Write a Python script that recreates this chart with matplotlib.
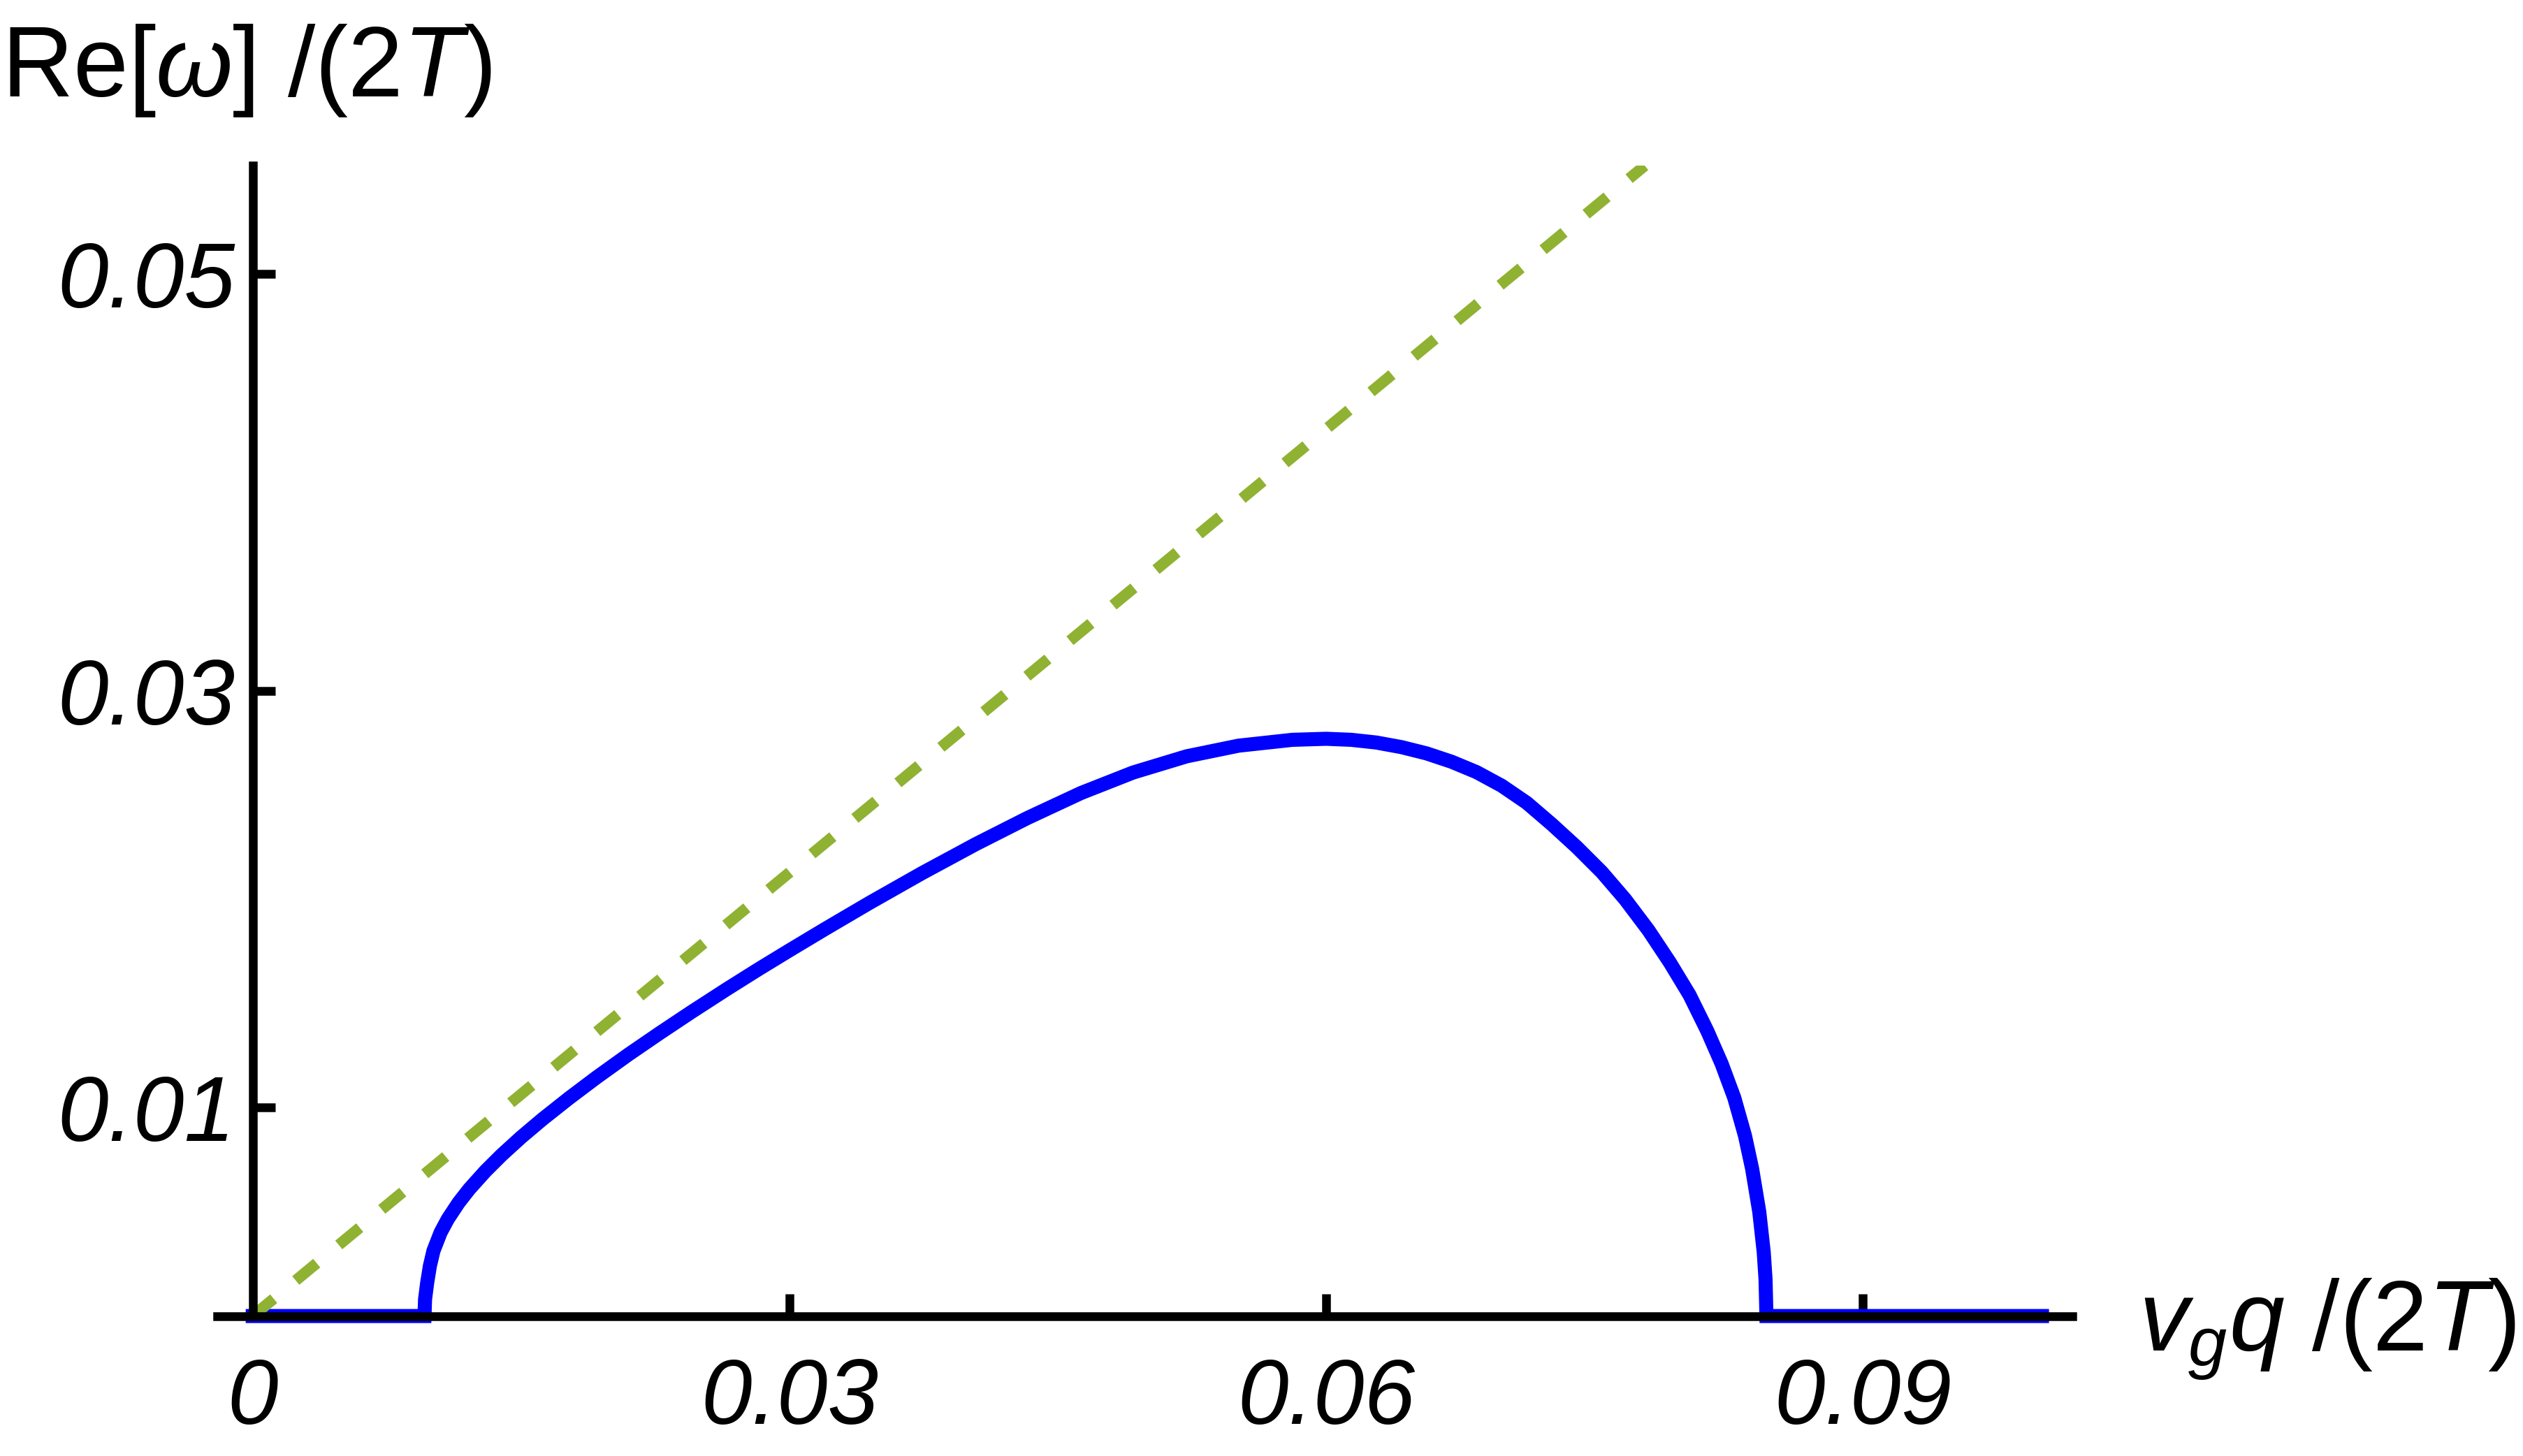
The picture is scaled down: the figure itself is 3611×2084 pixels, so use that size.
import matplotlib
matplotlib.use("Agg")
import matplotlib.pyplot as plt

plt.rcParams['font.family'] = ['Liberation Sans', 'DejaVu Sans']
plt.rcParams['mathtext.fontset'] = 'custom'
plt.rcParams['mathtext.rm'] = 'Liberation Sans'
plt.rcParams['mathtext.it'] = 'Liberation Sans:italic'
plt.rcParams['lines.scale_dashes'] = False

# blue curve: Re[w]/(2T) vs v_g q/(2T)
blue_x = [0.0, 0.0096, 0.00963, 0.00975, 0.0099, 0.0101, 0.0105, 0.0109, 0.0115,
          0.0121, 0.013, 0.0139, 0.015, 0.0162, 0.0177, 0.0192, 0.021, 0.0227,
          0.0245, 0.0265, 0.0283, 0.03, 0.032, 0.0345, 0.0374, 0.0404, 0.0433,
          0.0463, 0.0492, 0.0522, 0.0551, 0.0581, 0.06, 0.0614, 0.0628, 0.0642,
          0.0656, 0.067, 0.0684, 0.0698, 0.0712, 0.0726, 0.074, 0.0754, 0.0767,
          0.078, 0.0792, 0.0803, 0.0813, 0.0821, 0.0828, 0.0834, 0.0838, 0.0842,
          0.08445, 0.08455, 0.0846, 0.1]
blue_y = [0.0, 0.0, 0.0008, 0.0016, 0.0024, 0.00313, 0.00401, 0.00465, 0.00543,
          0.00609, 0.00695, 0.00772, 0.00858, 0.00945, 0.01047, 0.01144, 0.01255, 0.01355,
          0.01458, 0.01569, 0.01666, 0.01755, 0.01858, 0.01984, 0.02125, 0.02264, 0.0239,
          0.0251, 0.02608, 0.02686, 0.02737, 0.02765, 0.0277, 0.02765, 0.02752, 0.0273,
          0.027, 0.0266, 0.0261, 0.02545, 0.02463, 0.0236, 0.0225, 0.0213, 0.02,
          0.01852, 0.01697, 0.01541, 0.01367, 0.0121, 0.01048, 0.00866, 0.00707, 0.005,
          0.00306, 0.00177, 0.0, 0.0]

# dashed green line (clipped at top of plot range)
green_x = [0.0, 0.0778]
green_y = [0.0, 0.0552]

x_ticks = [0, 0.03, 0.06, 0.09]
x_labels = ['0', '0.03', '0.06', '0.09']
y_ticks = [0.01, 0.03, 0.05]
y_labels = ['0.01', '0.03', '0.05']

fig = plt.figure(figsize=(36.12, 20.84), dpi=100)
ax = fig.add_axes([0.08597, 0.09613, 0.7352, 0.79006])

ax.plot(blue_x, blue_y, color='#0000ff', lw=14.5, solid_joinstyle='miter',
        solid_capstyle='projecting', clip_on=False, zorder=2)
ax.plot(green_x, green_y, color='#8fb232', lw=11.5, linestyle=(0, (28, 29.5)),
        dash_capstyle='butt', zorder=2.2)

ax.set_xlim(-0.002, 0.1017)
ax.set_ylim(0, 0.0552)

for s in ['top', 'right']:
    ax.spines[s].set_visible(False)
ax.spines['left'].set_position(('data', 0))
ax.spines['bottom'].set_position(('data', 0))
for s in ['left', 'bottom']:
    ax.spines[s].set_linewidth(9)
    ax.spines[s].set_zorder(3)

ax.set_xticks(x_ticks)
ax.set_xticklabels(x_labels, fontstyle='italic', fontsize=94)
ax.set_yticks(y_ticks)
ax.set_yticklabels(y_labels, fontstyle='italic', fontsize=94)
ax.tick_params(axis='both', direction='in', length=23, width=9)
ax.tick_params(axis='x', pad=42)
ax.tick_params(axis='y', pad=18)
ax.xaxis.get_major_ticks()[0].tick1line.set_visible(False)

fig.text(0.0005, 0.9338, r'Re[$\omega$] /(2$T$)', fontsize=102, va='baseline', ha='left')
fig.text(0.8475, 0.0729, r'$v_g q$ /(2$T$)', fontsize=102, va='baseline', ha='left')

fig.savefig('out.png', dpi=100)
